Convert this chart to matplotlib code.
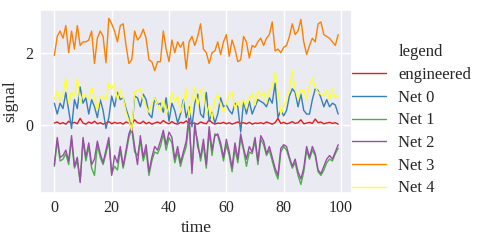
import matplotlib
matplotlib.use("Agg")
from matplotlib import pyplot as plt
from matplotlib.lines import Line2D
import seaborn as sns

# values, one per time step (0..99)
engineered = [0.05, 0.08, 0.03, 0.06, 0.02, 0.10, 0.04, 0.07, 0.03, 0.18,
              0.05, 0.02, 0.08, 0.04, 0.10, 0.03, 0.06, 0.02, 0.05, 0.09,
              0.03, 0.07, 0.04, 0.06, 0.02, 0.08, 0.05, 0.03, 0.14, 0.06,
              0.04, 0.10, 0.03, 0.07, 0.02, 0.05, 0.08, 0.04, 0.12, 0.06,
              0.03, 0.09, 0.04, 0.02, 0.07, 0.05, 0.11, 0.03, 0.06, 0.04,
              0.02, 0.08, 0.05, 0.03, 0.14, 0.06, 0.02, 0.05, 0.04, 0.07,
              0.03, 0.06, 0.02, 0.05, 0.08, 0.04, 0.06, 0.03, 0.07, 0.02,
              0.05, 0.04, 0.06, 0.03, 0.08, 0.05, 0.02, 0.06, 0.18, 0.04,
              0.07, 0.03, 0.05, 0.09, 0.04, 0.06, 0.14, 0.03, 0.05, 0.07,
              0.04, 0.16, 0.06, 0.08, 0.03, 0.05, 0.07, 0.04, 0.06, 0.02]

net0 = [0.6, 0.3, 0.6, 0.45, 0.9, 0.4, -0.1, 0.7, 0.45, 1.05,
        0.6, 0.75, 0.3, 0.7, 0.5, 0.2, 0.7, 0.4, -0.1, 0.2,
        0.8, 0.5, 0.9, 0.7, 0.75, 0.45, 0.2, -0.2, 0.8, 0.75,
        0.5, 0.85, 0.7, 0.3, 0.2, 0.75, 0.55, 0.6, 0.35, 0.75,
        0.1, 0.6, 0.4, 0.05, 0.3, 0.7, 0.2, 0.5, -0.05, 0.6,
        0.85, 0.3, 0.2, 0.9, 0.1, 0.35, 0.05, 0.3, 0.75, 0.5,
        0.55, 0.4, 0.3, 0.6, 0.5, -0.2, 0.65, 0.3, 0.65, 0.3,
        0.5, 0.7, 0.65, 0.6, 0.5, 0.75, 0.6, 1.15, 0.2, 0.4,
        0.25, 0.4, 0.8, 1.0, 0.9, 0.5, 0.85, 0.4, 0.3, 0.3,
        0.7, 1.0, 0.95, 0.75, 0.5, 0.7, 0.5, 0.6, 0.55, 0.3]

net1 = [-1.15, -0.45, -1.0, -0.95, -0.8, -1.1, -0.4, -1.2, -1.0, -1.55,
        -0.45, -1.0, -0.6, -1.2, -1.4, -0.55, -0.9, -1.1, -0.8, -0.45,
        -1.35, -1.15, -1.25, -0.7, -1.2, -0.8, -0.35, -0.1, -0.75, -0.85,
        -0.45, -1.0, -0.7, -1.4, -1.0, -0.75, -0.8, -0.6, -0.25, -0.7,
        -0.35, -0.5, -1.05, -0.75, -1.15, -0.85, -0.6, 0.1, -1.25, -0.1,
        -0.45, -1.0, -0.55, -1.2, -0.2, -0.85, -0.25, -0.3, -0.6, -1.0,
        -0.55, -0.85, -1.3, -0.65, -1.05, -0.35, -0.7, -1.15, -0.75, -0.8,
        -0.45, -1.1, -0.4, -0.55, -0.85, -0.7, -1.0, -1.3, -1.5, -0.75,
        -0.6, -0.7, -0.95, -1.2, -1.05, -1.4, -1.65, -1.3, -0.7, -0.95,
        -0.7, -0.85, -1.3, -1.4, -1.25, -1.05, -0.95, -1.0, -0.8, -0.65]

net2 = [-1.1, -0.35, -0.9, -0.85, -0.7, -1.0, -0.3, -1.15, -0.9, -1.6,
        -0.35, -0.9, -0.5, -1.1, -0.95, -0.45, -0.8, -1.05, -0.7, -0.35,
        -1.4, -0.85, -1.05, -0.6, -1.15, -0.7, -0.25, -0.05, -0.6, -1.1,
        -0.3, -0.9, -0.55, -1.3, -0.9, -0.6, -0.7, -0.45, -0.15, -0.55,
        -0.2, -0.35, -0.95, -0.6, -1.05, -0.75, -0.45, 0.3, -1.35, 0.05,
        -0.6, -0.9, -0.4, -1.1, -0.05, -0.7, -0.3, -0.25, -0.5, -0.9,
        -0.4, -0.75, -1.2, -0.5, -0.95, -0.25, -0.65, -0.95, -0.6, -0.75,
        -0.35, -1.0, -0.3, -0.45, -0.8, -0.6, -0.9, -1.2, -1.4, -0.65,
        -0.55, -0.6, -0.9, -1.15, -0.95, -1.3, -1.5, -1.2, -0.6, -0.9,
        -0.6, -0.8, -1.25, -1.35, -1.15, -0.95, -0.85, -0.95, -0.75, -0.55]

net3 = [1.92, 2.45, 2.6, 2.4, 2.75, 2.0, 2.6, 2.1, 2.75, 2.2,
        2.3, 2.3, 2.35, 2.6, 1.7, 2.4, 2.6, 2.45, 1.72, 2.95,
        2.8, 2.6, 2.3, 2.75, 2.8, 2.2, 1.7, 1.8, 2.6, 2.35,
        2.45, 2.65, 2.4, 1.8, 1.75, 1.5, 1.75, 1.75, 2.6, 2.1,
        1.75, 2.35, 2.0, 2.3, 2.15, 2.3, 1.55, 2.3, 2.45, 2.2,
        2.45, 2.8, 2.1, 2.0, 1.7, 2.0, 2.05, 2.3, 1.95, 2.3,
        2.5, 1.9, 2.35, 2.1, 1.75, 1.8, 2.45, 2.3, 1.85, 2.2,
        2.15, 2.3, 2.4, 2.2, 2.4, 2.5, 2.85, 2.05, 2.1, 2.0,
        2.15, 2.2, 2.45, 2.8, 2.5, 2.6, 2.92, 2.3, 1.95, 2.2,
        2.4, 2.3, 2.8, 2.85, 2.5, 2.45, 2.4, 2.3, 2.2, 2.5]

net4 = [0.7, 0.95, 0.65, 0.85, 1.3, 0.6, 0.9, 0.8, 1.3, 0.6,
        0.85, 0.8, 0.7, 1.05, 0.75, 0.4, 0.8, 0.75, 0.7, 1.15,
        1.0, 1.15, 0.7, 0.95, 0.75, 0.35, 0.1, -0.15, 0.9, 0.95,
        1.0, 0.7, 0.5, 0.35, 0.6, 0.75, 0.55, 0.4, 0.7, 0.3,
        0.5, 0.9, 0.65, 0.8, 0.35, 0.6, 1.0, 0.2, 0.7, 1.05,
        0.5, 0.95, 1.0, 0.3, 0.55, 0.15, 0.7, 0.85, 0.55, 0.35,
        0.6, 0.85, 0.9, 0.45, 0.65, 0.5, 0.7, 0.45, 0.75, 0.85,
        0.55, 0.95, 0.8, 0.9, 0.6, 0.95, 1.05, 1.45, 0.95, 0.3,
        0.5, 0.7, 1.0, 1.5, 1.0, 0.7, 0.95, 0.95, 0.7, 1.1,
        1.3, 1.05, 0.9, 0.85, 0.8, 0.95, 0.7, 1.0, 0.75, 0.8]

names = ["engineered", "Net 0", "Net 1", "Net 2", "Net 3", "Net 4"]
series = [engineered, net0, net1, net2, net3, net4]

sns.set_theme(style="darkgrid")
plt.rcParams['font.family'] = ['Liberation Serif', 'DejaVu Serif']

colors = sns.color_palette("Set1", 6)

fig = plt.figure(figsize=(4.84, 2.4), dpi=100)
ax = fig.add_axes([0.083, 0.197, 0.645, 0.761])

for name, vals, c in zip(names, series, colors):
    ax.plot(range(len(vals)), vals, color=c, linewidth=1.0, label=name)

ax.set_xticks([0, 20, 40, 60, 80, 100])
ax.set_yticks([0, 2])
ax.tick_params(labelsize=11.5, pad=5, size=0)
ax.set_xlabel("time", fontsize=12.5, labelpad=3)
ax.set_ylabel("signal", fontsize=12.5, labelpad=5)

# seaborn-style legend: the title is a row with an empty handle
handles = [Line2D([], [], linestyle="none")] + ax.get_lines()
labels = ["legend"] + names
ax.legend(handles, labels, loc="center left", bbox_to_anchor=(1.0, 0.396),
          frameon=False, fontsize=12, borderaxespad=0, borderpad=0,
          handlelength=2.0, handletextpad=0.75, labelspacing=0.4)

plt.savefig("out.png", dpi=100)
